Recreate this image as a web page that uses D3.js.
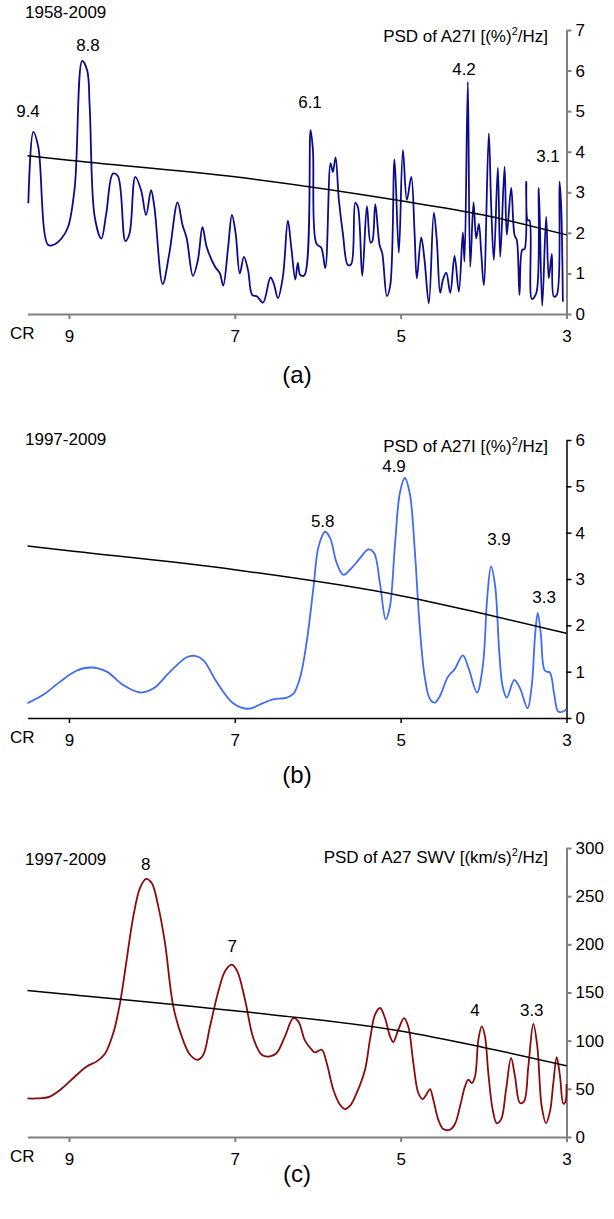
<!DOCTYPE html>
<html>
<head>
<meta charset="utf-8">
<script src="https://cdn.jsdelivr.net/npm/d3@7"></script>
<style>
  body { margin: 0; background: #fff; }
  svg text { font-family: "Liberation Sans", Arial, sans-serif; fill: #000; }
</style>
</head>
<body>
<div id="chart"></div>
<script>
// x axis: period in carrington rotations (CR)
const crTicks = [9, 7, 5, 3];
const yTicksA = [0, 1, 2, 3, 4, 5, 6, 7];
const yTicksB = [0, 1, 2, 3, 4, 5, 6];
const yTicksC = [0, 50, 100, 150, 200, 250, 300];

// [period, psd]
const psdA = [[9.49,2.73],[9.43,4.49],[9.37,4.12],[9.25,1.70],[9.17,1.72],[9.09,1.86],[9.01,2.15],[8.93,3.13],[8.84,6.24],[8.78,6.00],[8.75,5.11],[8.69,2.40],[8.61,1.86],[8.55,2.48],[8.47,3.46],[8.41,3.40],[8.32,1.80],[8.27,1.98],[8.20,3.38],[8.13,3.05],[8.07,2.44],[8.01,3.05],[7.97,2.64],[7.87,0.74],[7.79,1.49],[7.69,2.75],[7.63,2.19],[7.58,1.86],[7.505,0.94],[7.445,1.33],[7.39,2.14],[7.34,1.66],[7.24,1.17],[7.18,1.0],[7.14,0.70],[7.08,1.66],[7.035,2.44],[6.99,1.99],[6.94,1.0],[6.89,1.41],[6.84,1.08],[6.79,0.47],[6.73,0.43],[6.66,0.28],[6.57,0.90],[6.53,0.75],[6.48,0.39],[6.42,0.92],[6.36,2.30],[6.32,1.66],[6.27,0.85],[6.24,1.26],[6.21,0.96],[6.16,0.96],[6.086,4.53],[6.058,4.04],[6.017,1.74],[5.957,1.63],[5.909,1.13],[5.845,3.71],[5.817,3.5],[5.785,3.86],[5.745,2.81],[5.697,1.99],[5.637,1.21],[5.596,1.23],[5.547,2.74],[5.516,2.64],[5.463,0.94],[5.407,2.66],[5.363,1.76],[5.342,1.79],[5.306,2.71],[5.254,1.70],[5.222,1.50],[5.166,0.44],[5.125,0.71],[5.074,3.81],[5.022,1.51],[4.973,4.04],[4.925,2.81],[4.872,3.38],[4.832,1.99],[4.805,0.88],[4.752,1.89],[4.712,1.33],[4.660,0.26],[4.600,2.50],[4.564,1.82],[4.523,0.52],[4.491,0.84],[4.450,1.02],[4.402,0.52],[4.350,1.43],[4.298,0.55],[4.250,2.01],[4.230,1.29],[4.190,5.72],[4.161,1.16],[4.121,2.75],[4.089,1.86],[4.057,2.22],[4.028,1.50],[3.997,0.71],[3.937,4.45],[3.908,2.64],[3.876,1.33],[3.828,3.61],[3.799,1.41],[3.747,3.63],[3.720,1.95],[3.667,3.11],[3.627,1.95],[3.599,1.82],[3.567,0.47],[3.534,1.58],[3.506,1.60],[3.486,3.26],[3.467,2.31],[3.446,2.31],[3.418,0.37],[3.365,0.51],[3.334,3.11],[3.293,0.20],[3.245,2.40],[3.214,0.88],[3.177,1.48],[3.153,0.43],[3.117,0.47],[3.084,3.26],[3.064,2.64],[3.044,0.30]];
const trendA = [[9.5,3.9],[9,3.79],[7,3.38],[5,2.79],[4,2.44],[3,1.95]];
const peaksA = [[9.494,4.85,'9.4'],[8.771,6.48,'8.8'],[6.093,5.07,'6.1'],[4.236,5.89,'4.2'],[3.223,3.74,'3.1']];

const psdB = [[9.5,0.32],[9.31,0.50],[9.11,0.78],[8.91,1.02],[8.73,1.09],[8.545,1.0],[8.345,0.71],[8.14,0.55],[7.98,0.64],[7.78,1.0],[7.58,1.31],[7.48,1.34],[7.38,1.25],[7.22,0.78],[7.02,0.32],[6.84,0.20],[6.66,0.32],[6.54,0.40],[6.37,0.44],[6.29,0.53],[6.21,0.89],[6.13,1.68],[6.05,2.84],[5.99,3.70],[5.91,4.02],[5.85,3.88],[5.77,3.34],[5.69,3.09],[5.59,3.24],[5.49,3.45],[5.39,3.64],[5.32,3.56],[5.25,2.91],[5.18,2.13],[5.13,2.40],[5.07,3.70],[5.01,4.85],[4.95,5.18],[4.89,4.85],[4.83,3.63],[4.77,1.97],[4.71,0.89],[4.65,0.42],[4.59,0.33],[4.53,0.46],[4.43,0.89],[4.35,1.05],[4.25,1.35],[4.18,1.07],[4.08,0.55],[4.01,1.11],[3.955,2.62],[3.91,3.27],[3.86,2.84],[3.81,1.40],[3.77,0.68],[3.72,0.44],[3.63,0.82],[3.56,0.64],[3.47,0.21],[3.42,0.68],[3.38,1.76],[3.347,2.27],[3.31,1.82],[3.26,1.02],[3.20,0.98],[3.15,0.53],[3.10,0.14],[3.04,0.14],[3.0,0.19]];
const trendB = [[9.5,3.71],[9,3.61],[7,3.2],[5,2.64],[4,2.25],[3,1.83]];
const peaksB = [[5.940,4.13,'5.8'],[5.080,5.30,'4.9'],[3.814,3.74,'3.9'],[3.271,2.49,'3.3']];

const psdC = [[9.5,40],[9.39,40],[9.23,42],[9.09,50],[8.95,61],[8.79,73],[8.665,78.5],[8.565,86.5],[8.465,108],[8.384,139],[8.304,184],[8.224,229],[8.143,258.5],[8.071,268],[8.002,263.7],[7.923,239.4],[7.842,201.4],[7.742,135.6],[7.640,104.4],[7.540,85.4],[7.447,80.2],[7.380,85.4],[7.299,114.8],[7.199,151.1],[7.118,172],[7.037,178.9],[6.970,172],[6.877,142.5],[6.777,102.8],[6.676,85.4],[6.576,83.7],[6.495,87.2],[6.395,104.4],[6.295,123.5],[6.234,120],[6.153,100],[6.073,90.6],[6.033,87.8],[5.952,90.6],[5.892,76.8],[5.812,49.1],[5.731,33.5],[5.671,29],[5.610,32.5],[5.530,45.7],[5.430,69.9],[5.370,101],[5.309,127],[5.249,133.9],[5.189,123.5],[5.128,104.4],[5.089,98.6],[5.028,111.4],[4.959,123.5],[4.908,114.8],[4.847,76.8],[4.787,45.7],[4.734,39.4],[4.686,44.6],[4.646,49.8],[4.606,38.7],[4.546,18],[4.486,8.3],[4.405,7.6],[4.344,13.8],[4.284,31.8],[4.224,52.5],[4.184,59.5],[4.143,56],[4.103,62.9],[4.063,101],[4.022,114.8],[3.983,104.4],[3.943,66.4],[3.890,28.3],[3.842,14.5],[3.790,18],[3.729,49.1],[3.669,82],[3.621,62.9],[3.561,35.3],[3.512,37],[3.460,73.3],[3.400,117.3],[3.352,94],[3.299,31.8],[3.247,14.5],[3.199,26.6],[3.159,56],[3.118,83],[3.078,62.9],[3.038,34.6],[3.015,36],[3.0,55]];
const trendC = [[9.5,152],[9,148],[7,131],[5,110],[4,93],[3,74]];
const peaksC = [[8.075,277.5,'8'],[7.030,191.6,'7'],[4.103,125.2,'4'],[3.419,125.2,'3.3']];

const W = 614, H = 1219;
const FS = 17; // text size used across the figure
const svg = d3.select('#chart').append('svg').attr('width', W).attr('height', H);

// same period scale for all three panels
const x = d3.scaleLinear().domain([9.5, 3]).range([27.5, 566.5]);

const panels = [
  { psd: psdA, trend: trendA, peaks: peaksA, ticks: yTicksA, yMax: 7, top: 30, bottom: 314,
    color: '#0c0c8a', axisColor: '#808080', axisWidth: 2, years: '1958-2009', yearsY: 18,
    title: ['PSD of A27I [(%)', '/Hz]'], titleY: 42, tag: '(a)', tagY: 383 },
  { psd: psdB, trend: trendB, peaks: peaksB, ticks: yTicksB, yMax: 6, top: 440, bottom: 718,
    color: '#3f6cf5', axisColor: '#000', axisWidth: 1.5, years: '1997-2009', yearsY: 445,
    title: ['PSD of A27I [(%)', '/Hz]'], titleY: 452, tag: '(b)', tagY: 783 },
  { psd: psdC, trend: trendC, peaks: peaksC, ticks: yTicksC, yMax: 300, top: 848, bottom: 1137,
    color: '#8b0a0a', axisColor: '#808080', axisWidth: 2, years: '1997-2009', yearsY: 865,
    title: ['PSD of A27 SWV [(km/s)', '/Hz]'], titleY: 863, tag: '(c)', tagY: 1182 }
];

panels.forEach(drawPanel);

function drawPanel(p) {
  const y = d3.scaleLinear().domain([0, p.yMax]).range([p.bottom, p.top]);
  const g = svg.append('g');

  const smooth = d3.line()
    .x(d => x(d[0]))
    .y(d => y(d[1]))
    .curve(d3.curveCatmullRom.alpha(0.5));
  const trendLine = d3.line()
    .x(d => x(d[0]))
    .y(d => y(d[1]))
    .curve(d3.curveMonotoneX);

  // axes
  const xAxis = d3.axisBottom(x).tickValues(crTicks).tickFormat(d3.format('d'))
    .tickSize(5).tickSizeOuter(0).tickPadding(11);
  const yAxis = d3.axisRight(y).tickValues(p.ticks).tickFormat(d3.format('d'))
    .tickSize(5).tickSizeOuter(0).tickPadding(4);

  g.append('g').attr('transform', 'translate(0,' + p.bottom + ')').call(xAxis);
  g.append('g').attr('transform', 'translate(' + x(3) + ',0)').call(yAxis);

  g.selectAll('.domain, .tick line')
    .attr('stroke', p.axisColor)
    .attr('stroke-width', p.axisWidth);
  g.selectAll('.tick text')
    .attr('font-size', FS)
    .attr('font-family', null)
    .attr('fill', '#000');

  // CR label at the left of the tick row
  g.append('text').attr('x', 10).attr('y', p.bottom + 25)
    .attr('font-size', FS).text('CR');

  // psd curve and trend line
  g.append('path').datum(p.psd)
    .attr('fill', 'none').attr('stroke', p.color).attr('stroke-width', 1.8)
    .attr('stroke-linejoin', 'round')
    .attr('d', smooth);
  g.append('path').datum(p.trend)
    .attr('fill', 'none').attr('stroke', '#000').attr('stroke-width', 1.5)
    .attr('d', trendLine);

  // peak period labels
  g.selectAll('text.peak').data(p.peaks).enter().append('text')
    .classed('peak', true)
    .attr('x', d => x(d[0]))
    .attr('y', d => y(d[1]))
    .attr('text-anchor', 'middle')
    .attr('font-size', FS)
    .text(d => d[2]);

  g.append('text').attr('x', 25).attr('y', p.yearsY)
    .attr('font-size', FS).text(p.years);

  // y title with superscript 2
  const t = g.append('text').attr('x', 548).attr('y', p.titleY)
    .attr('text-anchor', 'end').attr('font-size', FS);
  t.append('tspan').text(p.title[0]);
  t.append('tspan').attr('font-size', 11).attr('dy', -7).text('2');
  t.append('tspan').attr('dy', 7).text(p.title[1]);

  g.append('text').attr('x', 297).attr('y', p.tagY)
    .attr('text-anchor', 'middle').attr('font-size', 24).text(p.tag);
}
</script>
</body>
</html>
